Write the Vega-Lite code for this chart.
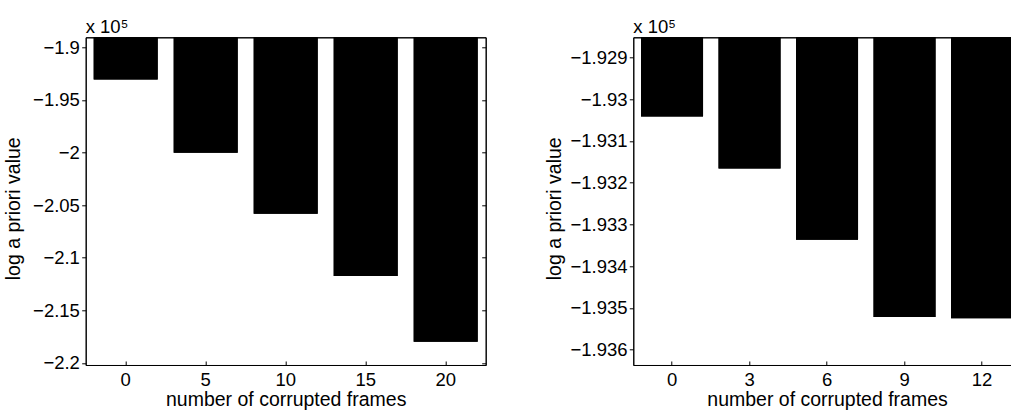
{
  "$schema": "https://vega.github.io/schema/vega-lite/v6.json",
  "background": "white",
  "padding": {"left": 2.7, "top": 17.3, "right": 0, "bottom": 0},
  "bounds": "flush",
  "spacing": 147.6,
  "config": {
    "font": "Liberation Sans",
    "view": {"stroke": "black", "strokeWidth": 1},
    "axis": {"grid": false, "domainColor": "black", "tickColor": "black", "labelColor": "black", "titleColor": "black", "labelFontSize": 18.5, "titleFontSize": 19.5, "titleFontWeight": "normal", "labelFont": "Liberation Sans", "titleFont": "Liberation Sans", "domainWidth": 1, "tickWidth": 1},
    "title": {"font": "Liberation Sans", "fontSize": 18.5, "fontWeight": "normal", "color": "black", "anchor": "start", "frame": "group", "baseline": "alphabetic", "offset": 1}
  },
  "datasets": {
    "left": [
      {"frames": 0, "value": -1.9307},
      {"frames": 5, "value": -2.0002},
      {"frames": 10, "value": -2.0582},
      {"frames": 15, "value": -2.1175},
      {"frames": 20, "value": -2.18}
    ],
    "right": [
      {"frames": 0, "value": -1.93042},
      {"frames": 3, "value": -1.93166},
      {"frames": 6, "value": -1.93337},
      {"frames": 9, "value": -1.93522},
      {"frames": 12, "value": -1.93525}
    ]
  },
  "hconcat": [
    {
      "width": 400,
      "height": 327.7,
      "title": "x 10⁵",
      "data": {"name": "left"},
      "layer": [
        {
          "mark": {"type": "bar", "color": "black", "clip": true},
          "encoding": {
            "x": {"field": "frames", "type": "ordinal", "scale": {"paddingInner": 0.2, "paddingOuter": 0.1},
              "axis": {"orient": "bottom", "labelAngle": 0, "tickSize": -4, "labelPadding": 25, "labelBaseline": "alphabetic", "title": "number of corrupted frames", "titleBaseline": "alphabetic", "titleY": 41}},
            "y": {"field": "value", "type": "quantitative", "scale": {"domain": [-2.202, -1.8905], "zero": false, "nice": false},
              "axis": {"orient": "left", "values": [-2.2, -2.15, -2.1, -2.05, -2.0, -1.95, -1.9], "format": ".2~f", "tickSize": 4, "labelPadding": 2.3, "title": "log a priori value", "titleX": -66, "titleY": 171, "titleAngle": -90, "titleBaseline": "alphabetic", "titleAlign": "center"}},
            "y2": {"datum": 0}
          }
        },
        {
          "mark": {"type": "bar", "color": "black", "clip": true},
          "encoding": {
            "x": {"field": "frames", "type": "ordinal",
              "axis": {"orient": "top", "labels": false, "ticks": false, "title": null}},
            "y": {"field": "value", "type": "quantitative",
              "axis": {"orient": "right", "values": [-2.2, -2.15, -2.1, -2.05, -2.0, -1.95, -1.9], "labels": false, "tickSize": -4, "title": null}},
            "y2": {"datum": 0}
          }
        }
      ],
      "resolve": {"axis": {"x": "independent", "y": "independent"}}
    },
    {
      "width": 387.5,
      "height": 327.7,
      "title": "x 10⁵",
      "data": {"name": "right"},
      "layer": [
        {
          "mark": {"type": "bar", "color": "black", "clip": true},
          "encoding": {
            "x": {"field": "frames", "type": "ordinal", "scale": {"paddingInner": 0.2, "paddingOuter": 0.1},
              "axis": {"orient": "bottom", "labelAngle": 0, "tickSize": -4, "labelPadding": 25, "labelBaseline": "alphabetic", "title": "number of corrupted frames", "titleBaseline": "alphabetic", "titleY": 41}},
            "y": {"field": "value", "type": "quantitative", "scale": {"domain": [-1.93637, -1.92852], "zero": false, "nice": false},
              "axis": {"orient": "left", "values": [-1.936, -1.935, -1.934, -1.933, -1.932, -1.931, -1.93, -1.929], "format": ".3~f", "tickSize": 4, "labelPadding": 2.3, "title": "log a priori value", "titleX": -73, "titleY": 171, "titleAngle": -90, "titleBaseline": "alphabetic", "titleAlign": "center"}},
            "y2": {"datum": 0}
          }
        },
        {
          "mark": {"type": "bar", "color": "black", "clip": true},
          "encoding": {
            "x": {"field": "frames", "type": "ordinal",
              "axis": {"orient": "top", "labels": false, "ticks": false, "title": null}},
            "y": {"field": "value", "type": "quantitative",
              "axis": {"orient": "right", "values": [-1.936, -1.935, -1.934, -1.933, -1.932, -1.931, -1.93, -1.929], "labels": false, "tickSize": -4, "title": null}},
            "y2": {"datum": 0}
          }
        }
      ],
      "resolve": {"axis": {"x": "independent", "y": "independent"}}
    }
  ]
}
